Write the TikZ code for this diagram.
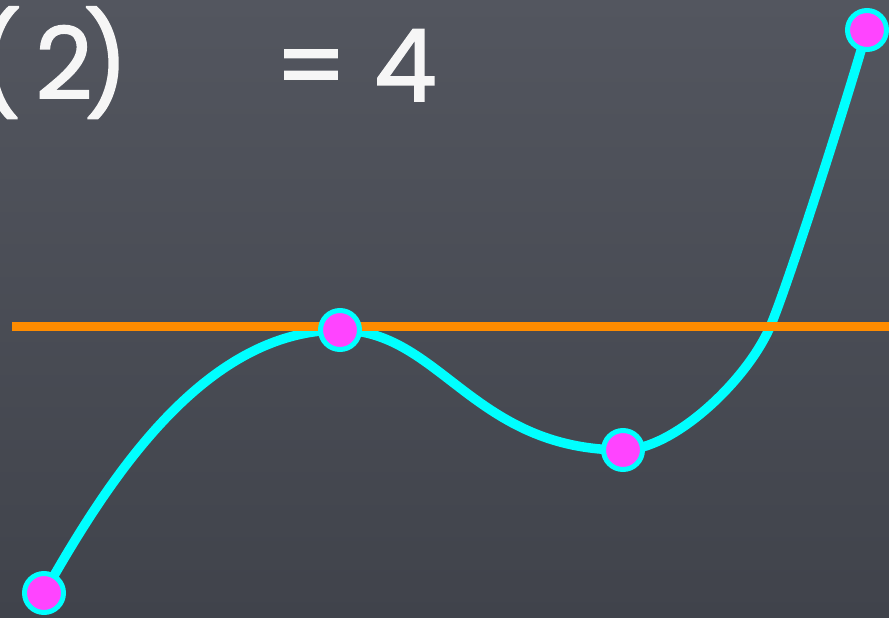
\documentclass[tikz,border=0pt]{standalone}
\usepackage{fontspec}
\setmainfont{Poppins}
\newfontfamily\chalkfont{Poppins}[BoldFont=Poppins, BoldFeatures={FakeBold=1.5}]
\definecolor{boardtop}{HTML}{53565F}
\definecolor{boardbot}{HTML}{40434B}
\definecolor{curvecyan}{HTML}{00FFFF}
\definecolor{dotmag}{HTML}{FF44FF}
\definecolor{lineorange}{HTML}{FF8C00}
\definecolor{chalk}{HTML}{F6F6F6}
\tikzset{
  curvestyle/.style={draw=curvecyan, line width=9.5pt, line cap=round, line join=round},
  hline/.style={draw=lineorange, line width=9pt},
  dot/.style={circle, fill=dotmag, draw=curvecyan, line width=5pt, minimum size=39pt, inner sep=0pt},
  label/.style={text=chalk, font=\chalkfont\bfseries\fontsize{100}{110}\selectfont, inner sep=0pt}
}
\begin{document}
\begin{tikzpicture}[x=1pt,y=-1pt]
\useasboundingbox (0,0) rectangle (889,618);
\clip (0,0) rectangle (889,618);
\shade[top color=boardtop, bottom color=boardbot] (0,0) rectangle (889,618);
% text
\node[label, anchor=base east] (lp) at (22,100) {(};
\node[label, anchor=base] (two) at (64,99) {2};
\node[label, anchor=base east] (rp) at (129,100) {)};
\node[label, anchor=base east] (rhs) at (437,101) {= 4};
% key coordinates
\coordinate (A) at (44,593);
\coordinate (B) at (340,330);
\coordinate (C) at (623,450);
\coordinate (E) at (770,327);
\coordinate (D) at (867,30);
\coordinate (L0) at (12,326);
\coordinate (L1) at (889,326);
% curve
\draw[curvestyle] (A) .. controls (103.5,488.8) and (200,330) .. (B)
  .. controls (440,330) and (473,450) .. (C)
  .. controls (673,450) and (745.8,381.9) .. (E)
  .. controls (786.1,290.4) and (845,107) .. (D);
% orange line
\draw[hline] (L0) -- (L1);
% dots
\node[dot] (pA) at (A) {};
\node[dot] (pB) at (B) {};
\node[dot] (pC) at (C) {};
\node[dot] (pD) at (D) {};
\end{tikzpicture}
\end{document}
